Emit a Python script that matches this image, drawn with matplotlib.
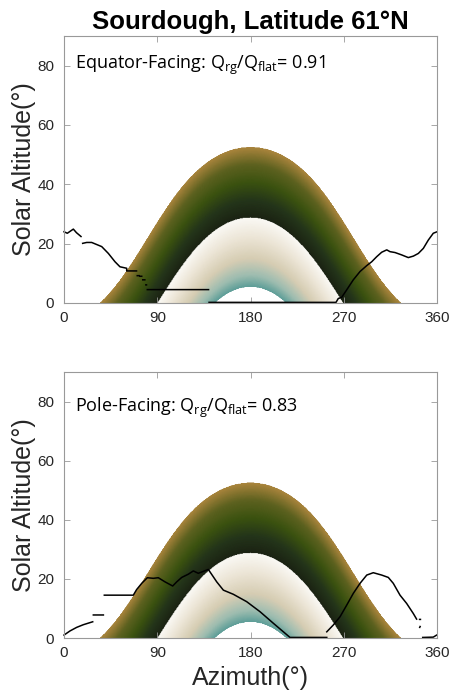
import numpy as np
import matplotlib
matplotlib.use('Agg')
import matplotlib.pyplot as plt
from matplotlib.colors import LinearSegmentedColormap

# site and sun path limits
latitude = 61.0
dec_max = 23.44

# horizon profiles (azimuth, altitude), NaN = gap
eq_az = [0, 3.2, 9, 12, 16.4, np.nan,
         18, 21.9, 26.7, 36.4, 42.8, 49.2, 54, 60.5, 60.5, 70, np.nan,
         70.7, 72.5, np.nan, 73.5, 75, np.nan, 76, 78, np.nan, 79, 79.6, np.nan,
         80.4, 139.5, np.nan,
         140, 262.5, 264.7, 268, 272.8, 279.2, 285.7, 292.2, 297, 301.8, 306.6,
         311.5, 314.6, 319.5, 325.9, 332.3, 337.2, 342, 346.8, 351.6, 356.4, 360]
eq_alt = [24.0, 23.5, 24.9, 23.7, 22.4, np.nan,
          20.1, 20.4, 20.4, 19.0, 16.7, 13.9, 12.2, 11.7, 10.8, 10.8, np.nan,
          9.2, 9.2, np.nan, 9.0, 9.0, np.nan, 7.8, 7.8, np.nan, 6.1, 6.1, np.nan,
          4.5, 4.5, np.nan,
          0.2, 0.2, 1.5, 1.9, 4.4, 7.8, 10.6, 12.6, 13.9, 15.6, 17.1,
          17.9, 17.3, 17.0, 16.2, 15.3, 15.8, 16.7, 18.4, 21.2, 23.5, 24.0]

pole_az = [0, 5.8, 12.2, 18.6, 27.7, np.nan,
           28.3, 38.0, np.nan,
           38.9, 66.9, 70.1, 75, 80.4, 86.2, 91, 97.5, 104.9, 108.8, 113.6, 120,
           124.8, 129.6, 139.3, 147.4, 153.8, 163.4, 176.3, 189.2, 202, 218.1, 253.6, np.nan,
           253.6, 259.9, 266.4, 272.8, 279.2, 285.7, 292.2, 298.5, 306.6, 313, 317.8,
           324.3, 330.7, 337.1, 340.3, np.nan, 343.2, 344.0, np.nan, 343.3, 343.7, np.nan,
           346.2, 356.4, 359.7]
pole_alt = [1.0, 2.4, 3.6, 4.5, 5.5, np.nan,
            7.8, 7.8, np.nan,
            14.5, 14.5, 16.4, 18.5, 20.4, 20.2, 20.4, 19.0, 17.6, 19.0, 20.5, 21.6,
            22.7, 21.9, 23.2, 19.0, 16.2, 14.8, 12.3, 8.9, 5.0, 0.2, 0.2, np.nan,
            2.1, 4.4, 7.2, 11.1, 15.1, 18.5, 21.3, 22.1, 21.3, 20.5, 18.5,
            14.5, 11.7, 8.3, 6.4, np.nan, 6.3, 6.3, np.nan, 3.6, 3.9, np.nan,
            0.2, 0.3, 1.0]

panels = [("Equator-Facing", 0.91, eq_az, eq_alt, 79),
          ("Pole-Facing", 0.83, pole_az, pole_alt, 76.5)]

# colour by declination: winter teal -> white, summer dark green -> gold
band_cmap = LinearSegmentedColormap.from_list('sunband', [
    (0.0, '#5f9f99'), (0.08, '#9dbdb0'), (0.2, '#d6cdb3'), (0.35, '#ece5d6'),
    (0.499, '#fbfaf6'), (0.5, '#1b2313'), (0.62, '#24351a'), (0.75, '#3b5210'),
    (0.88, '#5e6220'), (1.0, '#a8843c')])

az_grid = np.linspace(0, 360, 721)
alt_grid = np.linspace(0, 90, 451)
AZ, ALT = np.meshgrid(az_grid, alt_grid)
lat = np.radians(latitude)
sin_dec = (np.sin(lat) * np.sin(np.radians(ALT))
           + np.cos(lat) * np.cos(np.radians(ALT)) * np.cos(np.radians(AZ)))
DEC = np.degrees(np.arcsin(np.clip(sin_dec, -1, 1)))
DEC = np.ma.masked_where(np.abs(DEC) > dec_max, DEC)

plt.rcParams['font.family'] = 'Liberation Sans'
plt.rcParams['mathtext.fontset'] = 'custom'
plt.rcParams['mathtext.rm'] = 'Open Sans'

fig = plt.figure(figsize=(4.53, 6.96), dpi=100)
ax_top = fig.add_axes([0.1413, 0.5647, 0.8234, 0.3836])
ax_bot = fig.add_axes([0.1413, 0.0833, 0.8234, 0.3822])

for ax, (name, ratio, h_az, h_alt, ty) in zip([ax_top, ax_bot], panels):
    ax.pcolormesh(AZ, ALT, DEC, cmap=band_cmap, vmin=-dec_max, vmax=dec_max,
                  shading='gouraud', rasterized=True)
    ax.plot(h_az, h_alt, color='black', lw=1.1, clip_on=False)
    ax.set_xlim(0, 360)
    ax.set_ylim(0, 90)
    ax.set_xticks([0, 90, 180, 270, 360])
    ax.set_yticks([0, 20, 40, 60, 80])
    ax.tick_params(direction='in', top=True, right=True, length=4, width=0.6,
                   color='#999999', labelcolor='#262626', labelsize=11)
    ax.tick_params(axis='x', pad=6)
    ax.tick_params(axis='y', pad=7)
    for s in ax.spines.values():
        s.set_color('#999999')
        s.set_linewidth(0.8)
    ax.set_ylabel('Solar Altitude(°)', fontsize=18, color='#262626')
    ax.yaxis.set_label_coords(-0.076, 0.5)
    ax.text(10.5, ty, name + r': Q$_{\rm rg}$/Q$_{\rm flat}$= ' + f'{ratio:.2f}',
            fontsize=13, family='Open Sans', color='black', va='baseline')

ax_bot.set_xlabel('Azimuth(°)', fontsize=18, color='#262626', labelpad=4)
fig.suptitle('Sourdough, Latitude 61°N', x=0.553, y=0.985, fontsize=18.5,
             fontweight='bold', va='top')

fig.savefig('out.png', dpi=100)
